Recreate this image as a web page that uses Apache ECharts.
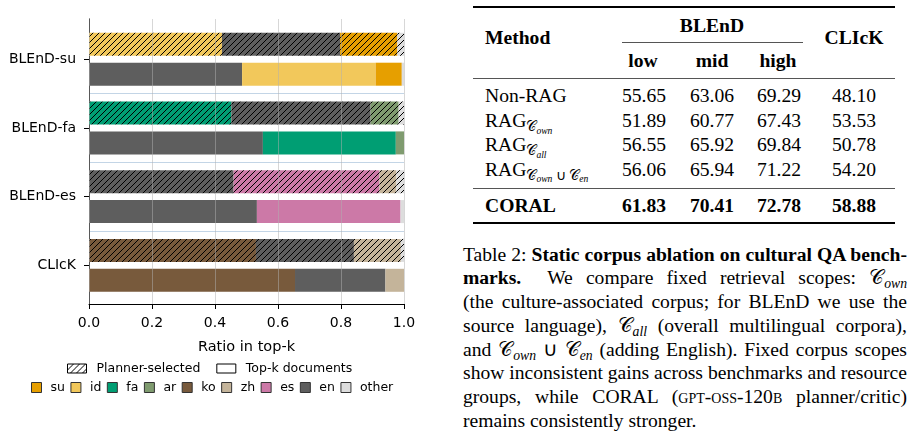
<!DOCTYPE html>
<html>
<head>
<meta charset="utf-8">
<script src="https://cdn.jsdelivr.net/npm/echarts@6/dist/echarts.min.js"></script>
<style>
  html, body { margin: 0; padding: 0; background: #fff; }
  #page { position: relative; width: 909px; height: 435px; overflow: hidden; }
  #chart { position: absolute; left: 0; top: 0; width: 460px; height: 435px; }
  .tx { position: absolute; font-family: 'Liberation Serif', 'Times New Roman', serif; font-size: 19.6px;
        line-height: 24px; color: #000; white-space: nowrap; }
  .rule { position: absolute; }
  #caption { position: absolute; left: 463px; top: 242.5px; width: 444px; font-family: 'Liberation Serif', serif;
             font-size: 19.6px; line-height: 23.8px; color: #000; }
  #caption div { height: 23.8px; text-align: justify; text-align-last: justify; white-space: nowrap; }
  #caption div.last { text-align-last: left; }
  sub { font-size: 70%; vertical-align: baseline; position: relative; top: 0.3em; line-height: 0; }
  sub i, sub sub { font-style: italic; }
  .sc { font-variant: small-caps; }
</style>
</head>
<body>
<div id="page">
  <div id="chart"></div>
  <div id="caption"></div>
</div>
<script>
// ---- bar chart data (share of documents per language) ----
var benchmarks = ['BLEnD-su', 'BLEnD-fa', 'BLEnD-es', 'CLIcK'];
var languages = ['su', 'id', 'fa', 'ar', 'ko', 'zh', 'es', 'en', 'other'];
var langColors = ['#E69F00', '#F2C85B', '#009E73', '#7F9B6F', '#785A3C', '#C4B49A', '#CC79A7', '#5E5E5E', '#DDDDDD'];

// planner-selected, per benchmark
var plannerSu = [0.182, 0, 0, 0];
var plannerId = [0.422, 0, 0, 0];
var plannerFa = [0, 0.452, 0, 0];
var plannerAr = [0, 0.089, 0, 0];
var plannerKo = [0, 0, 0, 0.530];
var plannerZh = [0, 0, 0.054, 0.149];
var plannerEs = [0, 0, 0.463, 0];
var plannerEn = [0.375, 0.442, 0.459, 0.311];
var plannerOther = [0.021, 0.017, 0.024, 0.010];

// top-k documents, per benchmark
var topkSu = [0.083, 0, 0, 0];
var topkId = [0.424, 0, 0, 0];
var topkFa = [0, 0.422, 0, 0];
var topkAr = [0, 0.026, 0, 0];
var topkKo = [0, 0, 0, 0.654];
var topkZh = [0, 0, 0, 0.059];
var topkEs = [0, 0, 0.456, 0];
var topkEn = [0.486, 0.552, 0.533, 0.287];
var topkOther = [0.007, 0, 0.011, 0];

// stacking order of segments
var plannerOrder = ['id', 'fa', 'ko', 'en', 'es', 'su', 'ar', 'zh', 'other'];
var topkOrder = ['ko', 'en', 'id', 'fa', 'es', 'su', 'ar', 'zh', 'other'];

// ---- table data ----
var methodLabels = [
  'Non-RAG',
  'RAG<sub>𝒞<sub>own</sub></sub>',
  'RAG<sub>𝒞<sub>all</sub></sub>',
  'RAG<sub>𝒞<sub>own</sub> ∪ 𝒞<sub>en</sub></sub>',
  'CORAL'
];
var blendLow = [55.65, 51.89, 56.55, 56.06, 61.83];
var blendMid = [63.06, 60.77, 65.92, 65.94, 70.41];
var blendHigh = [69.29, 67.43, 69.84, 71.22, 72.78];
var clickScores = [48.10, 53.53, 50.78, 54.20, 58.88];

var captionLines = [
  'Table 2: <b>Static corpus ablation on cultural QA bench-</b>',
  '<b>marks.</b>&nbsp; We compare fixed retrieval scopes: 𝒞<sub><i>own</i></sub>',
  '(the culture-associated corpus; for BLEnD we use the',
  'source language), 𝒞<sub><i>all</i></sub> (overall multilingual corpora),',
  'and 𝒞<sub><i>own</i></sub> ∪ 𝒞<sub><i>en</i></sub> (adding English). Fixed corpus scopes',
  'show inconsistent gains across benchmarks and resource',
  'groups, while CORAL (<span class="sc">gpt-oss-120b</span> planner/critic)',
  'remains consistently stronger.'
];

var plannerData = {su: plannerSu, id: plannerId, fa: plannerFa, ar: plannerAr, ko: plannerKo,
                   zh: plannerZh, es: plannerEs, en: plannerEn, other: plannerOther};
var topkData = {su: topkSu, id: topkId, fa: topkFa, ar: topkAr, ko: topkKo,
                zh: topkZh, es: topkEs, en: topkEn, other: topkOther};

function colorOf(lang) {
  return langColors[languages.indexOf(lang)];
}

// diagonal hatch "///" on top of a fill colour
function hatch(color) {
  var c = document.createElement('canvas');
  c.width = 6; c.height = 6;
  var g = c.getContext('2d');
  g.fillStyle = color;
  g.fillRect(0, 0, 6, 6);
  g.strokeStyle = '#000';
  g.lineWidth = 1;
  g.beginPath();
  g.moveTo(0, 6); g.lineTo(6, 0);
  g.moveTo(-1, 1); g.lineTo(1, -1);
  g.moveTo(5, 7); g.lineTo(7, 5);
  g.stroke();
  return {image: c, repeat: 'repeat'};
}

var font = 'DejaVu Sans';
var series = [];
plannerOrder.forEach(function (l) {
  series.push({
    name: l, type: 'bar', stack: 'planner', barWidth: 23, barGap: '30%',
    xAxisIndex: 0, yAxisIndex: 0, silent: true,
    itemStyle: {color: hatch(colorOf(l))},
    data: plannerData[l]
  });
});
series.push({
  name: 'Planner-selected', type: 'bar', stack: 'planner', barWidth: 23, barGap: '30%',
  xAxisIndex: 0, yAxisIndex: 0, itemStyle: {color: hatch('#fff'), borderColor: '#000', borderWidth: 1}, data: []
});
topkOrder.forEach(function (l) {
  series.push({
    name: l, type: 'bar', stack: 'topk', barWidth: 23, barGap: '30%',
    xAxisIndex: 0, yAxisIndex: 0, silent: true,
    itemStyle: {color: colorOf(l)},
    data: topkData[l]
  });
});
series.push({
  name: 'Top-k documents', type: 'bar', stack: 'topk', barWidth: 23, barGap: '30%',
  xAxisIndex: 0, yAxisIndex: 0, itemStyle: {color: '#fff', borderColor: '#000', borderWidth: 1}, data: []
});

var chart = echarts.init(document.getElementById('chart'), null, {renderer: 'canvas'});
chart.setOption({
  animation: false,
  backgroundColor: '#fff',
  grid: [
    {left: 89, right: 56, top: 24.9, height: 274.8},
    {left: 89, right: 56, top: 19, bottom: 131}
  ],
  xAxis: [
    {gridIndex: 0, type: 'value', min: 0, max: 1, show: false},
    {
      gridIndex: 1, type: 'value', min: 0, max: 1, interval: 0.2, z: 5,
      axisLine: {show: true, lineStyle: {color: '#000', width: 1}},
      axisTick: {show: true, length: 5, lineStyle: {color: '#000', width: 1}},
      axisLabel: {fontFamily: font, fontSize: 14, color: '#000', margin: 12,
                  formatter: function (v) { return v.toFixed(1); }},
      splitLine: {show: true, lineStyle: {color: 'rgba(176,176,176,0.5)', width: 1}},
      name: 'Ratio in top-k', nameLocation: 'middle', nameGap: 36,
      nameTextStyle: {fontFamily: font, fontSize: 14.5, color: '#000'}
    }
  ],
  yAxis: [
    {
      gridIndex: 0, type: 'category', data: benchmarks, inverse: true,
      axisLine: {show: false},
      axisTick: {show: true, alignWithLabel: true, length: 5, lineStyle: {color: '#000', width: 1}},
      axisLabel: {fontFamily: font, fontSize: 14, color: '#000', margin: 13},
      splitLine: {show: true, showMinLine: false, showMaxLine: false,
                  lineStyle: {color: '#c3d5e6', width: 1}}
    },
    {
      gridIndex: 1, type: 'value', min: 0, max: 1,
      axisLine: {show: true, lineStyle: {color: '#000', width: 1}},
      axisTick: {show: false}, axisLabel: {show: false}, splitLine: {show: false}
    }
  ],
  legend: [
    {
      selectedMode: false, left: 67, top: 362, padding: 0, icon: 'rect', itemWidth: 19, itemHeight: 9, itemGap: 16,
      textStyle: {fontFamily: font, fontSize: 12.5, color: '#000', padding: [0, 0, 0, 5]},
      data: [
        {name: 'Planner-selected', itemStyle: {color: hatch('#fff'), borderColor: '#000', borderWidth: 1}},
        {name: 'Top-k documents', itemStyle: {color: '#fff', borderColor: '#000', borderWidth: 1}}
      ]
    },
    {
      selectedMode: false, left: 31, top: 381, padding: 0, icon: 'rect', itemWidth: 10, itemHeight: 10, itemGap: 5.5,
      textStyle: {fontFamily: font, fontSize: 12.5, color: '#000', padding: [0, 0, 0, 4]},
      data: languages.map(function (l, i) {
        return {name: l, itemStyle: {color: langColors[i], borderColor: '#333', borderWidth: 1}};
      })
    }
  ],
  series: series
});

// ---- table (booktabs style) ----
var page = document.getElementById('page');
function cell(html, x, y, center, bold) {
  var d = document.createElement('div');
  d.className = 'tx';
  d.innerHTML = html;
  d.style.top = (y - 12) + 'px';
  d.style.left = x + 'px';
  if (center) d.style.transform = 'translateX(-50%)';
  if (bold) d.style.fontWeight = 'bold';
  page.appendChild(d);
}
function rule(x, y, w, h, color) {
  var d = document.createElement('div');
  d.className = 'rule';
  d.style.left = x + 'px'; d.style.top = y + 'px';
  d.style.width = w + 'px'; d.style.height = h + 'px';
  d.style.background = color;
  page.appendChild(d);
}
var colX = [644, 712, 779, 854];
var rowY = [96.3, 120.7, 145.1, 169.5, 206];

rule(473, 6.4, 422, 1.7, '#000');
cell('Method', 485, 37.5, false, true);
cell('BLEnD', colX[1], 26, true, true);
cell('CLIcK', colX[3], 37.5, true, true);
rule(622, 42.2, 181, 1, '#555');
cell('low', colX[0] - 1, 61, true, true);
cell('mid', colX[1], 61, true, true);
cell('high', colX[2] - 1, 61, true, true);
rule(473, 77.8, 422, 1, '#555');
rule(473, 187.8, 422, 1, '#555');
rule(473, 222.4, 422, 1.7, '#000');

methodLabels.forEach(function (m, i) {
  var bold = i === methodLabels.length - 1;
  cell(m, 485, rowY[i], false, bold);
  cell(blendLow[i].toFixed(2), colX[0], rowY[i], true, bold);
  cell(blendMid[i].toFixed(2), colX[1], rowY[i], true, bold);
  cell(blendHigh[i].toFixed(2), colX[2], rowY[i], true, bold);
  cell(clickScores[i].toFixed(2), colX[3], rowY[i], true, bold);
});

// ---- caption ----
var cap = document.getElementById('caption');
captionLines.forEach(function (line, i) {
  var d = document.createElement('div');
  d.innerHTML = line;
  if (i === captionLines.length - 1) d.className = 'last';
  cap.appendChild(d);
});
</script>
</body>
</html>
